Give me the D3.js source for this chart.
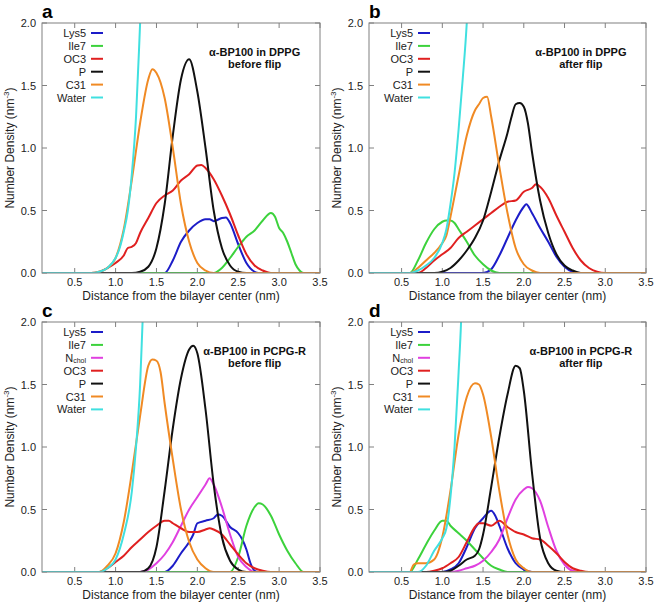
<!DOCTYPE html>
<html><head><meta charset="utf-8">
<script src="https://cdn.jsdelivr.net/npm/d3@7"></script>
<style>body{margin:0;background:#fff}svg{display:block}text{font-family:"Liberation Sans",Arial,Helvetica,sans-serif}</style>
</head><body>
<svg id="chart" width="655" height="604"></svg>
<script>
// ---- data (x in nm, y in nm^-3) ----
const xTicks = [0.5, 1.0, 1.5, 2.0, 2.5, 3.0, 3.5];
const yTicks = [0.0, 0.5, 1.0, 1.5, 2.0];
const xDomain = [0.1, 3.5];
const yDomain = [0, 2.0];

// panel a: DPPG before flip
const a_Lys5 = [[0.1,0],[1.6,0],[1.7,0.1],[1.8,0.25],[1.9,0.34],[2.0,0.4],[2.1,0.43],[2.15,0.43],[2.2,0.415],[2.3,0.44],[2.35,0.445],[2.4,0.4],[2.5,0.23],[2.6,0.08],[2.7,0.01],[2.75,0],[3.5,0]];
const a_Ile7 = [[0.1,0],[2.2,0],[2.3,0.04],[2.4,0.12],[2.5,0.21],[2.6,0.29],[2.7,0.34],[2.8,0.42],[2.9,0.48],[2.95,0.45],[3.0,0.36],[3.05,0.32],[3.1,0.25],[3.15,0.16],[3.2,0.07],[3.25,0.02],[3.3,0],[3.5,0]];
const a_OC3 = [[0.1,0],[0.7,0],[0.8,0.01],[0.9,0.04],[1.0,0.08],[1.1,0.14],[1.15,0.2],[1.2,0.21],[1.25,0.24],[1.3,0.32],[1.4,0.44],[1.5,0.56],[1.6,0.62],[1.7,0.66],[1.8,0.74],[1.9,0.79],[2.0,0.86],[2.05,0.865],[2.1,0.84],[2.2,0.75],[2.3,0.62],[2.4,0.47],[2.5,0.3],[2.6,0.15],[2.7,0.06],[2.8,0.02],[2.9,0],[3.5,0]];
const a_P = [[0.1,0],[1.2,0],[1.3,0.01],[1.4,0.05],[1.5,0.2],[1.6,0.55],[1.7,1.1],[1.8,1.55],[1.9,1.71],[2.0,1.45],[2.1,1.0],[2.2,0.5],[2.3,0.2],[2.4,0.06],[2.5,0.01],[2.6,0],[3.5,0]];
const a_C31 = [[0.1,0],[0.7,0],[0.8,0.01],[0.9,0.04],[1.0,0.12],[1.1,0.35],[1.2,0.75],[1.3,1.2],[1.4,1.55],[1.45,1.63],[1.5,1.6],[1.6,1.4],[1.7,1.0],[1.8,0.55],[1.9,0.25],[2.0,0.08],[2.1,0.02],[2.2,0],[3.5,0]];
const a_Water = [[0.1,0],[0.7,0],[0.8,0.01],[0.9,0.04],[1.0,0.12],[1.05,0.2],[1.1,0.33],[1.15,0.5],[1.2,0.8],[1.25,1.25],[1.3,2.0],[1.35,2.8]];

// panel b: DPPG after flip
const b_Lys5 = [[0.1,0],[1.5,0],[1.6,0.03],[1.7,0.14],[1.8,0.28],[1.9,0.42],[2.0,0.53],[2.03,0.55],[2.1,0.48],[2.2,0.36],[2.3,0.25],[2.4,0.13],[2.5,0.05],[2.6,0.01],[2.7,0],[3.5,0]];
const b_Ile7 = [[0.1,0],[0.6,0],[0.7,0.1],[0.8,0.24],[0.9,0.35],[1.0,0.41],[1.05,0.42],[1.1,0.42],[1.15,0.4],[1.2,0.35],[1.3,0.25],[1.4,0.14],[1.5,0.07],[1.6,0.02],[1.7,0],[3.5,0]];
const b_OC3 = [[0.1,0],[0.7,0],[0.8,0.04],[0.9,0.1],[1.0,0.15],[1.1,0.2],[1.2,0.28],[1.3,0.33],[1.4,0.38],[1.5,0.43],[1.6,0.48],[1.7,0.53],[1.8,0.57],[1.9,0.58],[2.0,0.65],[2.1,0.68],[2.15,0.71],[2.2,0.69],[2.3,0.6],[2.4,0.46],[2.5,0.33],[2.6,0.2],[2.7,0.1],[2.8,0.04],[2.9,0.01],[3.0,0],[3.5,0]];
const b_P = [[0.1,0],[0.9,0],[1.0,0.01],[1.1,0.04],[1.2,0.1],[1.3,0.18],[1.4,0.28],[1.5,0.42],[1.6,0.65],[1.7,0.9],[1.8,1.12],[1.85,1.25],[1.9,1.35],[1.95,1.36],[2.0,1.33],[2.05,1.2],[2.1,0.97],[2.2,0.58],[2.3,0.32],[2.4,0.15],[2.5,0.06],[2.6,0.02],[2.7,0],[3.5,0]];
const b_C31 = [[0.1,0],[0.6,0],[0.7,0.04],[0.8,0.1],[0.9,0.16],[1.0,0.24],[1.05,0.3],[1.1,0.45],[1.2,0.78],[1.3,1.1],[1.4,1.3],[1.45,1.35],[1.5,1.4],[1.55,1.41],[1.6,1.25],[1.7,0.85],[1.8,0.48],[1.9,0.2],[2.0,0.07],[2.1,0.02],[2.2,0],[3.5,0]];
const b_Water = [[0.1,0],[0.6,0],[0.7,0.02],[0.8,0.06],[0.9,0.12],[1.0,0.24],[1.05,0.35],[1.1,0.55],[1.15,0.8],[1.2,1.15],[1.25,1.55],[1.3,2.0],[1.33,2.4]];

// panel c: PCPG-R before flip
const c_Lys5 = [[0.1,0],[1.6,0],[1.7,0.05],[1.8,0.15],[1.9,0.24],[1.95,0.3],[2.0,0.39],[2.1,0.41],[2.2,0.43],[2.25,0.46],[2.3,0.45],[2.4,0.36],[2.5,0.31],[2.55,0.26],[2.6,0.18],[2.65,0.07],[2.7,0.01],[2.75,0],[3.5,0]];
const c_Ile7 = [[0.1,0],[2.4,0],[2.5,0.12],[2.6,0.37],[2.7,0.52],[2.75,0.55],[2.8,0.54],[2.9,0.45],[3.0,0.3],[3.1,0.17],[3.2,0.07],[3.3,0],[3.5,0]];
const c_Nchol = [[0.1,0],[1.3,0],[1.4,0.02],[1.5,0.07],[1.6,0.14],[1.7,0.24],[1.8,0.37],[1.9,0.5],[2.0,0.6],[2.1,0.7],[2.15,0.75],[2.2,0.7],[2.3,0.52],[2.4,0.3],[2.5,0.12],[2.6,0.04],[2.7,0],[3.5,0]];
const c_OC3 = [[0.1,0],[0.8,0],[0.9,0.03],[1.0,0.08],[1.1,0.13],[1.2,0.2],[1.3,0.26],[1.4,0.32],[1.5,0.37],[1.6,0.41],[1.65,0.41],[1.7,0.39],[1.8,0.35],[1.9,0.32],[2.0,0.32],[2.1,0.34],[2.15,0.35],[2.2,0.34],[2.3,0.3],[2.4,0.22],[2.5,0.14],[2.6,0.07],[2.7,0.03],[2.8,0.01],[2.9,0],[3.5,0]];
const c_P = [[0.1,0],[1.3,0],[1.4,0.03],[1.5,0.2],[1.6,0.65],[1.7,1.15],[1.8,1.55],[1.9,1.78],[1.95,1.81],[2.0,1.75],[2.1,1.3],[2.2,0.7],[2.3,0.28],[2.4,0.09],[2.5,0.02],[2.6,0],[3.5,0]];
const c_C31 = [[0.1,0],[0.8,0],[0.9,0.05],[1.0,0.15],[1.1,0.4],[1.2,0.8],[1.3,1.25],[1.4,1.65],[1.45,1.7],[1.5,1.69],[1.55,1.6],[1.6,1.35],[1.7,0.9],[1.8,0.5],[1.9,0.24],[2.0,0.1],[2.1,0.03],[2.2,0],[3.5,0]];
const c_Water = [[0.1,0],[0.8,0],[0.9,0.03],[1.0,0.1],[1.1,0.3],[1.2,0.65],[1.25,1.0],[1.3,1.5],[1.33,2.0],[1.36,2.5]];

// panel d: PCPG-R after flip
const d_Lys5 = [[0.1,0],[1.0,0],[1.1,0.02],[1.2,0.07],[1.3,0.2],[1.4,0.35],[1.5,0.43],[1.6,0.49],[1.65,0.45],[1.7,0.37],[1.8,0.19],[1.9,0.07],[2.0,0.02],[2.1,0],[3.5,0]];
const d_Ile7 = [[0.1,0],[0.6,0],[0.7,0.1],[0.8,0.22],[0.9,0.33],[1.0,0.41],[1.05,0.41],[1.1,0.37],[1.2,0.31],[1.3,0.25],[1.4,0.18],[1.5,0.11],[1.6,0.05],[1.7,0.02],[1.8,0],[3.5,0]];
const d_Nchol = [[0.1,0],[1.1,0],[1.2,0.01],[1.3,0.03],[1.4,0.05],[1.5,0.09],[1.6,0.16],[1.7,0.26],[1.8,0.43],[1.9,0.58],[2.0,0.66],[2.05,0.68],[2.1,0.67],[2.2,0.57],[2.3,0.36],[2.4,0.17],[2.5,0.06],[2.6,0.01],[2.7,0],[3.5,0]];
const d_OC3 = [[0.1,0],[0.8,0],[0.9,0.01],[1.0,0.03],[1.1,0.07],[1.2,0.12],[1.3,0.24],[1.4,0.36],[1.45,0.39],[1.5,0.39],[1.6,0.37],[1.7,0.41],[1.8,0.36],[1.9,0.32],[2.0,0.3],[2.1,0.27],[2.2,0.26],[2.3,0.21],[2.4,0.15],[2.5,0.08],[2.6,0.03],[2.7,0.01],[2.8,0],[3.5,0]];
const d_P = [[0.1,0],[1.0,0],[1.1,0.01],[1.2,0.05],[1.3,0.1],[1.4,0.13],[1.45,0.18],[1.5,0.3],[1.6,0.68],[1.7,1.08],[1.8,1.42],[1.9,1.65],[1.95,1.63],[2.0,1.45],[2.1,0.8],[2.2,0.27],[2.3,0.07],[2.4,0.01],[2.5,0],[3.5,0]];
const d_C31 = [[0.1,0],[0.6,0],[0.65,0.06],[0.7,0.07],[0.8,0.07],[0.9,0.1],[1.0,0.28],[1.1,0.65],[1.2,1.1],[1.3,1.4],[1.4,1.51],[1.45,1.5],[1.5,1.42],[1.6,1.08],[1.7,0.65],[1.8,0.3],[1.9,0.1],[2.0,0.03],[2.1,0],[3.5,0]];
const d_Water = [[0.1,0],[0.7,0],[0.8,0.05],[0.9,0.17],[1.0,0.27],[1.05,0.35],[1.1,0.6],[1.15,1.0],[1.2,1.6],[1.23,2.0],[1.25,2.4]];

const colors = {Lys5:"#1c1cc8", Ile7:"#3cd23c", Nchol:"#e040e0", OC3:"#e02020", P:"#111111", C31:"#f08a24", Water:"#40e0e0"};

const panels = [
  {id:"a", left:42, top:23, right:320, bottom:273, title:["α-BP100 in DPPG","before flip"],
   series:[["Lys5",a_Lys5],["Ile7",a_Ile7],["OC3",a_OC3],["P",a_P],["C31",a_C31],["Water",a_Water]]},
  {id:"b", left:369, top:23, right:646, bottom:273, title:["α-BP100 in DPPG","after flip"],
   series:[["Lys5",b_Lys5],["Ile7",b_Ile7],["OC3",b_OC3],["P",b_P],["C31",b_C31],["Water",b_Water]]},
  {id:"c", left:42, top:322, right:320, bottom:572, title:["α-BP100 in PCPG-R","before flip"],
   series:[["Lys5",c_Lys5],["Ile7",c_Ile7],["Nchol",c_Nchol],["OC3",c_OC3],["P",c_P],["C31",c_C31],["Water",c_Water]]},
  {id:"d", left:369, top:322, right:646, bottom:572, title:["α-BP100 in PCPG-R","after flip"],
   series:[["Lys5",d_Lys5],["Ile7",d_Ile7],["Nchol",d_Nchol],["OC3",d_OC3],["P",d_P],["C31",d_C31],["Water",d_Water]]}
];

const svg = d3.select("#chart");
const fmt = d3.format(".1f");
const gridCol = "#808080";

panels.forEach(p => {
  const x = d3.scaleLinear().domain(xDomain).range([p.left, p.right]);
  const y = d3.scaleLinear().domain(yDomain).range([p.bottom, p.top]);
  const g = svg.append("g");

  g.append("clipPath").attr("id","clip-"+p.id).append("rect")
    .attr("x",p.left).attr("y",p.top).attr("width",p.right-p.left).attr("height",p.bottom-p.top);

  // ticks inside (all four sides)
  const tl = 5;
  xTicks.forEach(t => {
    g.append("line").attr("x1",x(t)).attr("x2",x(t)).attr("y1",p.bottom).attr("y2",p.bottom-tl).attr("stroke",gridCol);
    g.append("line").attr("x1",x(t)).attr("x2",x(t)).attr("y1",p.top).attr("y2",p.top+tl).attr("stroke",gridCol);
    g.append("text").attr("x",x(t)).attr("y",p.bottom+13).attr("text-anchor","middle")
      .attr("font-size",11).attr("fill","#222").text(fmt(t));
  });
  yTicks.forEach(t => {
    g.append("line").attr("x1",p.left).attr("x2",p.left+tl).attr("y1",y(t)).attr("y2",y(t)).attr("stroke",gridCol);
    g.append("line").attr("x1",p.right).attr("x2",p.right-tl).attr("y1",y(t)).attr("y2",y(t)).attr("stroke",gridCol);
    g.append("text").attr("x",p.left-6).attr("y",y(t)+4).attr("text-anchor","end")
      .attr("font-size",11).attr("fill","#222").text(fmt(t));
  });

  // curves
  const line = d3.line().x(d=>x(d[0])).y(d=>y(d[1])).curve(d3.curveMonotoneX);
  const cg = g.append("g").attr("clip-path","url(#clip-"+p.id+")");
  p.series.forEach(([name, data]) => {
    cg.append("path").datum(data).attr("d",line).attr("fill","none")
      .attr("stroke",colors[name]).attr("stroke-width",2).attr("stroke-linejoin","round");
  });

  // border
  g.append("rect").attr("x",p.left).attr("y",p.top).attr("width",p.right-p.left).attr("height",p.bottom-p.top)
    .attr("fill","none").attr("stroke",gridCol).attr("stroke-width",1);

  // legend
  p.series.forEach(([name], i) => {
    const ly = p.top + 10 + i*12.9;
    const t = g.append("text").attr("x",p.left+44).attr("y",ly+4).attr("text-anchor","end")
      .attr("font-size",11).attr("fill","#222");
    if (name === "Nchol") {
      t.text("N");
      t.append("tspan").attr("font-size",7).attr("dy",1.5).text("chol");
    } else t.text(name);
    g.append("line").attr("x1",p.left+49).attr("x2",p.left+61).attr("y1",ly).attr("y2",ly)
      .attr("stroke",colors[name]).attr("stroke-width",2);
  });

  // annotation
  const cx = p.left + (p.right-p.left)*0.765;
  g.append("text").attr("x",cx).attr("y",p.top+33).attr("text-anchor","middle")
    .attr("font-size",11).attr("font-weight","bold").attr("fill","#111").text(p.title[0]);
  g.append("text").attr("x",cx).attr("y",p.top+45).attr("text-anchor","middle")
    .attr("font-size",11).attr("font-weight","bold").attr("fill","#111").text(p.title[1]);

  // axis titles
  g.append("text").attr("x",(p.left+p.right)/2).attr("y",p.bottom+27).attr("text-anchor","middle")
    .attr("font-size",12).attr("fill","#222").text("Distance from the bilayer center (nm)");
  const yt = g.append("text").attr("transform",`translate(${p.left-28},${(p.top+p.bottom)/2}) rotate(-90)`)
    .attr("text-anchor","middle").attr("font-size",12).attr("fill","#222");
  yt.append("tspan").text("Number Density (nm");
  yt.append("tspan").attr("font-size",8).attr("dy",-5).text("-3");
  yt.append("tspan").attr("dy",5).text(")");

  // panel letter
  g.append("text").attr("x",p.left).attr("y",p.top-5).attr("font-size",19).attr("font-weight","bold")
    .attr("fill","#000").text(p.id);
});
</script>
</body></html>
